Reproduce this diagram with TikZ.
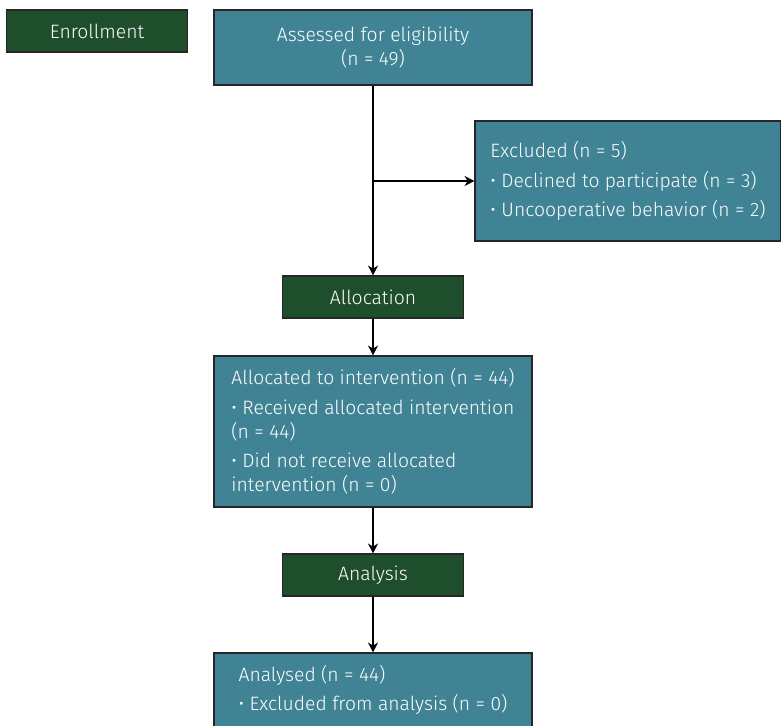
\documentclass[tikz,border=0pt]{standalone}
\usepackage{fontspec}
\setmainfont{Fira Sans Light}
\usetikzlibrary{arrows.meta}
\definecolor{stagegreen}{HTML}{1F4E2D}
\definecolor{boxteal}{HTML}{3F8395}

\begin{document}
\begin{tikzpicture}[x=0.75pt,y=-0.75pt,
  every node/.style={font=\fontsize{14.5}{18}\selectfont,text=white},
  stage/.style={draw=black!85,line width=0.8pt,fill=stagegreen,minimum width=136pt,minimum height=31.5pt,inner sep=0pt},
  infobox/.style={draw=black!85,line width=0.8pt,fill=boxteal,inner sep=0pt,align=left},
  arr/.style={-{Stealth[length=7.5pt,width=7.5pt]},line width=0.9pt}]
\useasboundingbox (0,0) rectangle (781,725);
\node [stage] (enrol) at (97,31) {Enrollment};
\node [infobox,align=center,minimum width=238.5pt,minimum height=56.25pt] (assess) at (373,47.5) {Assessed for eligibility\\(n = 49)};
\node [infobox,minimum width=229.5pt,minimum height=90pt] (excl) at (628,181)
  {Excluded (n = 5)\\[4pt]
   • Declined to participate (n = 3)\\[4pt]
   • Uncooperative behavior (n = 2)};
\node [stage] (alloc) at (373,297) {Allocation};
\node [infobox,minimum width=238.5pt,minimum height=113.25pt] (allocd) at (373,431.5)
  {Allocated to intervention (n = 44)\\[4pt]
   • Received allocated intervention\\
   (n = 44)\\[4pt]
   • Did not receive allocated\\
   intervention (n = 0)};
\node [stage] (anal) at (373,575) {Analysis};
\node [infobox,minimum width=238.5pt,minimum height=55.5pt] (analysed) at (373,690)
  {Analysed (n = 44)\\[4pt]
   • Excluded from analysis (n = 0)};
\coordinate (split) at (assess.south |- excl.west);
\draw [arr] (assess.south) -- (alloc.north);
\draw [arr] (split) -- (excl.west);
\draw [arr] (alloc.south) -- (allocd.north);
\draw [arr] (allocd.south) -- (anal.north);
\draw [arr] (anal.south) -- (analysed.north);
\end{tikzpicture}
\end{document}
